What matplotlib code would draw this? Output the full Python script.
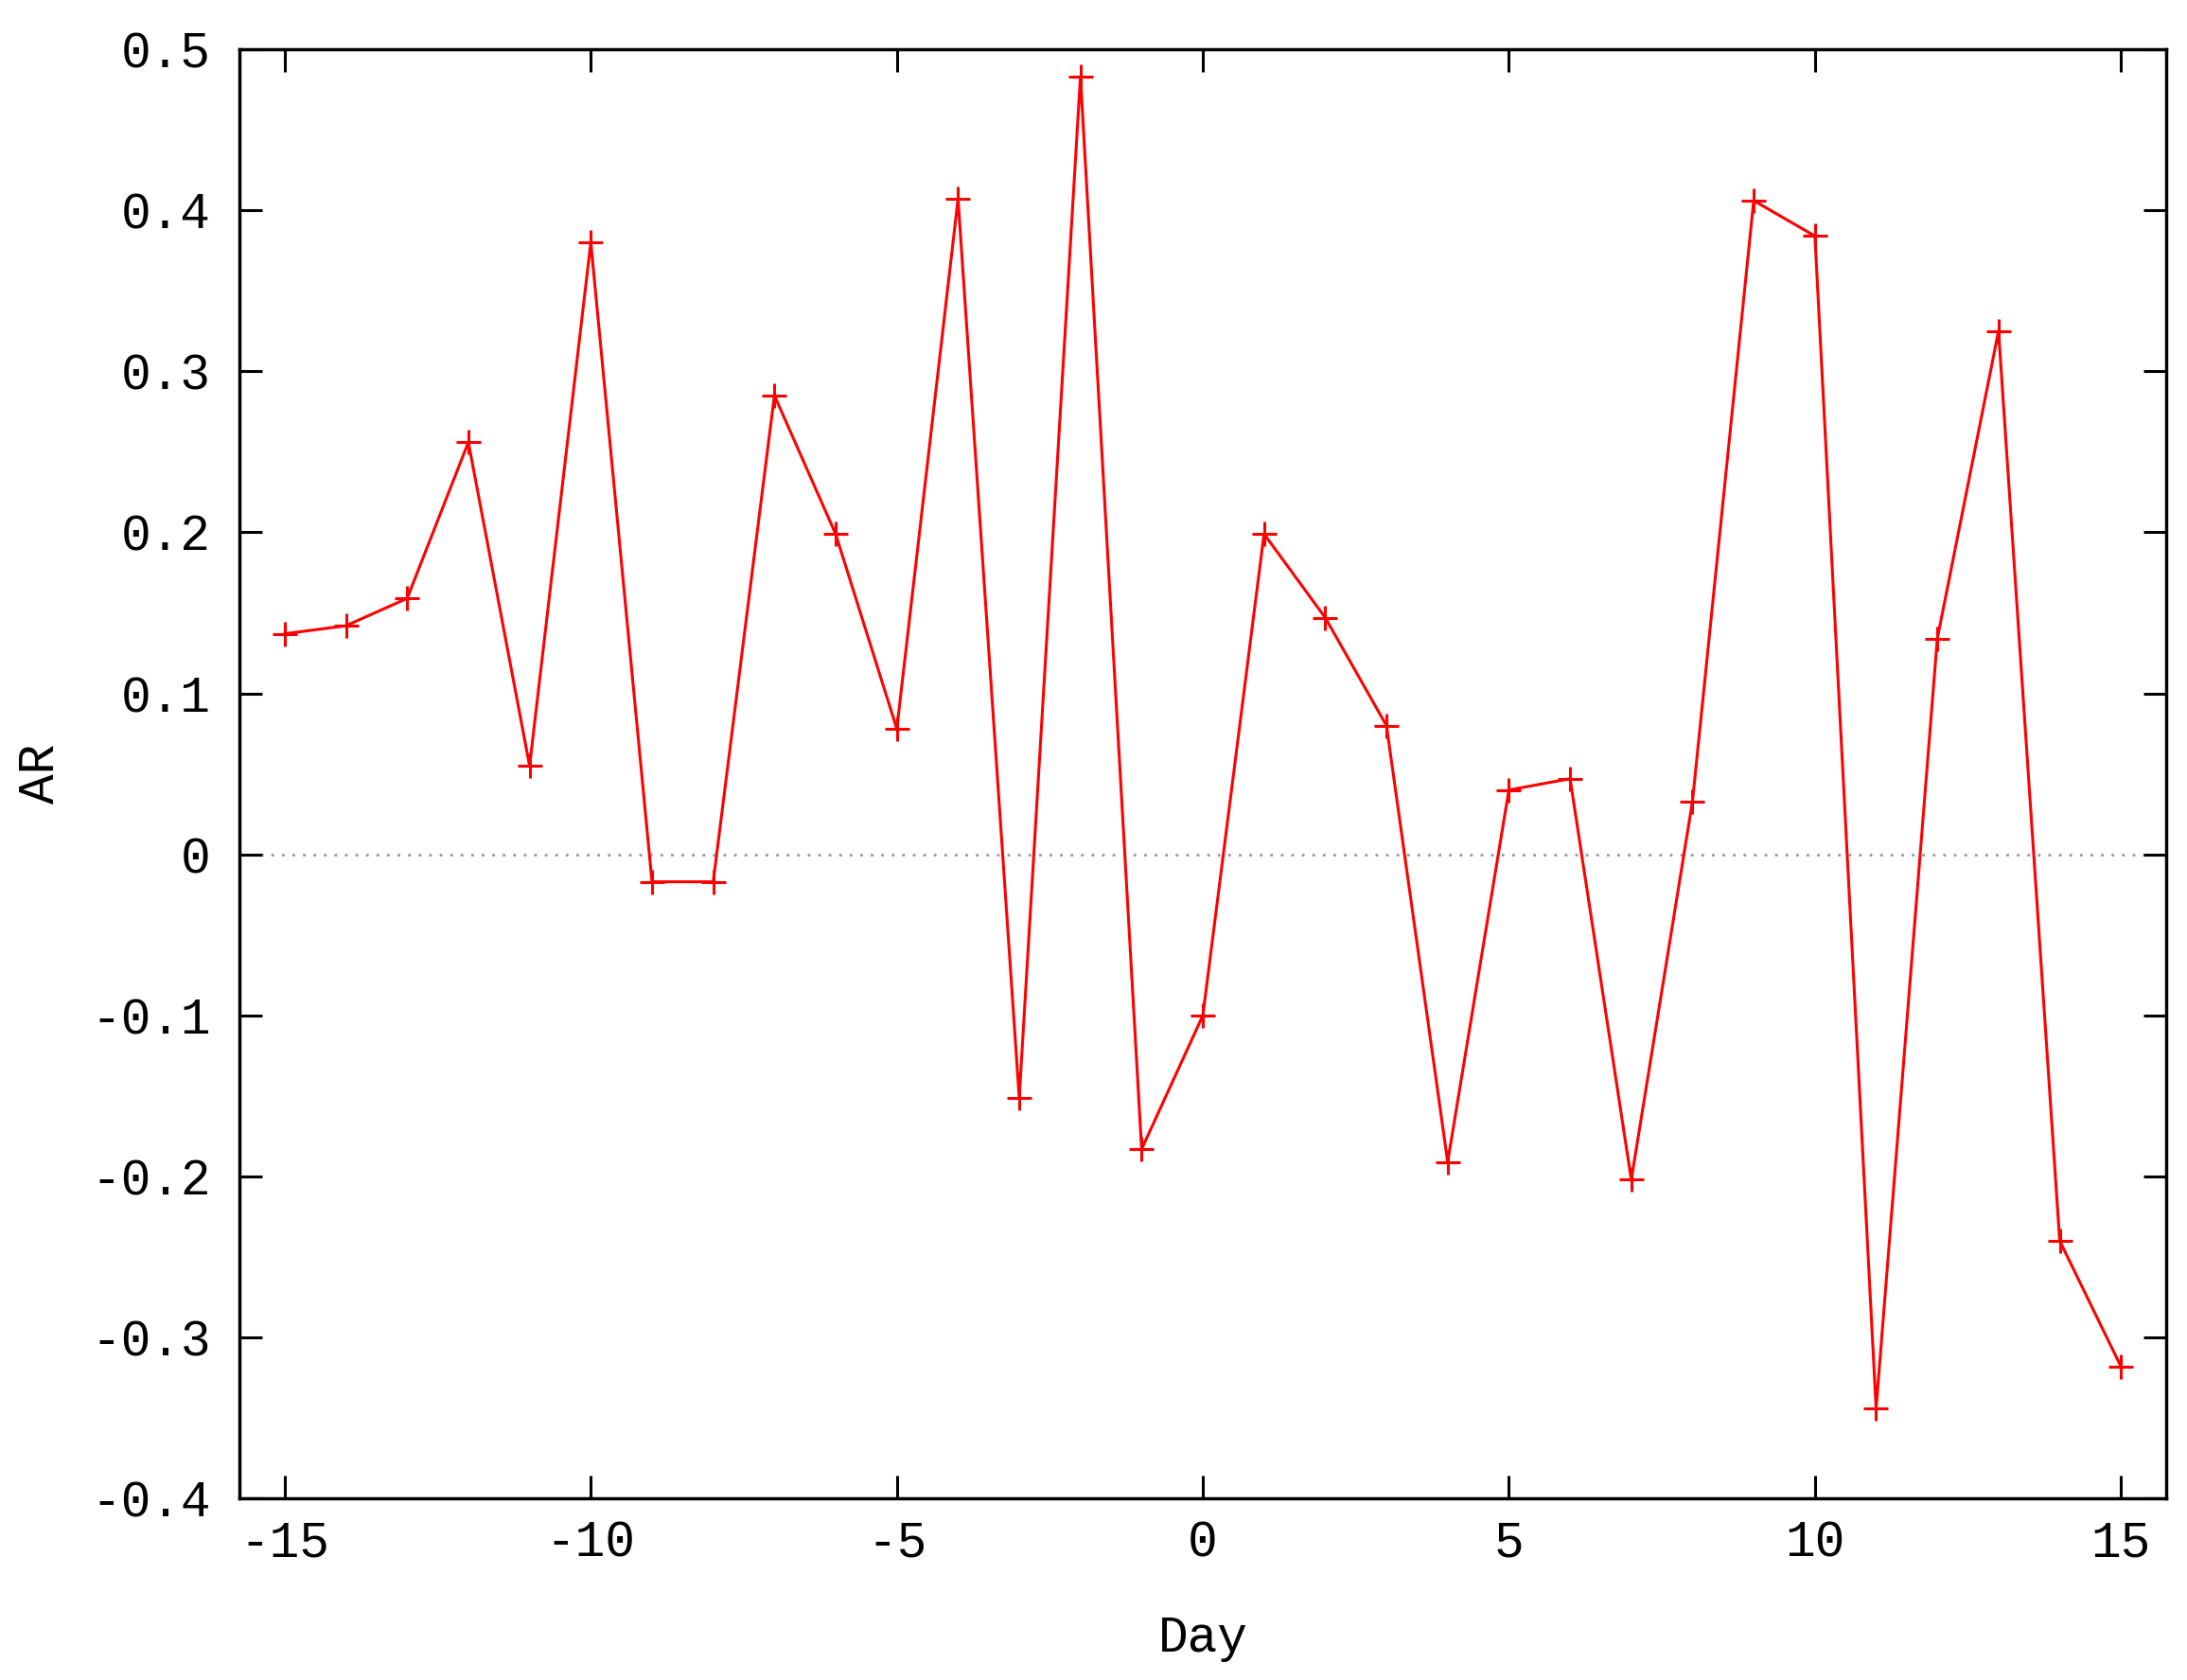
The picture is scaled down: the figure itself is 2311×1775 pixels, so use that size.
import numpy as np
import matplotlib
matplotlib.use("Agg")
import matplotlib.pyplot as plt

plt.rcParams["font.family"] = "Liberation Mono"
plt.rcParams["font.size"] = 38
plt.rcParams["axes.unicode_minus"] = False

# day relative to event
day = [-15, -14, -13, -12, -11, -10, -9, -8, -7, -6, -5, -4, -3, -2, -1, 0,
       1, 2, 3, 4, 5, 6, 7, 8, 9, 10, 11, 12, 13, 14, 15]

# abnormal return
ar = [0.137, 0.142, 0.159, 0.256, 0.055, 0.380, -0.017, -0.017, 0.285, 0.199,
      0.078, 0.407, -0.151, 0.483, -0.183, -0.100, 0.199, 0.147, 0.080, -0.191,
      0.040, 0.047, -0.202, 0.033, 0.406, 0.384, -0.344, 0.134, 0.325, -0.240,
      -0.318]

xticks = [-15, -10, -5, 0, 5, 10, 15]
yticks = [-0.4, -0.3, -0.2, -0.1, 0, 0.1, 0.2, 0.3, 0.4, 0.5]
ylabels = ["-0.4", "-0.3", "-0.2", "-0.1", "0", "0.1", "0.2", "0.3", "0.4", "0.5"]

fig = plt.figure(figsize=(23.11, 17.75), dpi=100)
ax = fig.add_axes([0.1095, 0.108, 0.881, 0.8627])

ax.axhline(0, color="#999999", linestyle=(0, (1, 3)), linewidth=2, zorder=1)
ax.plot(day, ar, color="#ff0000", linewidth=2.2, marker="+", markersize=19,
        markeredgewidth=2.2, zorder=3)

ax.set_xlim(-15.74, 15.74)
ax.set_ylim(-0.4, 0.5)
ax.set_xticks(xticks)
ax.set_yticks(yticks)
ax.set_yticklabels(ylabels)

ax.tick_params(direction="in", length=17, width=2.2, top=True, right=True,
               labelsize=38)
ax.tick_params(axis="x", pad=16)
ax.tick_params(axis="y", pad=22)
for s in ax.spines.values():
    s.set_linewidth(2.5)

ax.set_xlabel("Day", fontsize=38, labelpad=36)
ax.set_ylabel("AR", fontsize=38, labelpad=20)

plt.savefig("out.png", dpi=100)
